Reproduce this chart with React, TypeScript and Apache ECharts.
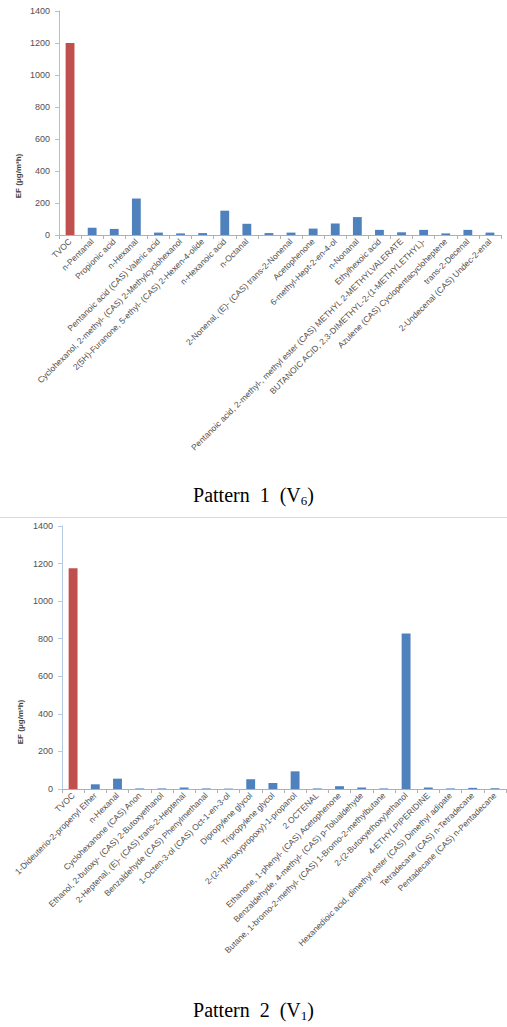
import React, { useEffect, useRef } from "react";
import * as echarts from "echarts";

const categories1 = [
  "TVOC",
  "n-Pentanal",
  "Propionic acid",
  "n-Hexanal",
  "Pentanoic acid (CAS) Valeric acid",
  "Cyclohexanol, 2-methyl- (CAS) 2-Methylcyclohexanol",
  "2(5H)-Furanone, 5-ethyl- (CAS) 2-Hexen-4-olide",
  "n-Hexanoic acid",
  "n-Octanal",
  "",
  "2-Nonenal, (E)- (CAS) trans-2-Nonenal",
  "Acetophenone",
  "6-methyl-Hept-2-en-4-ol",
  "n-Nonanal",
  "Ethylhexoic acid",
  "Pentanoic acid, 2-methyl-, methyl ester (CAS) METHYL 2-METHYLVALERATE",
  "BUTANOIC ACID, 2,3-DIMETHYL-2-(1-METHYLETHYL)-",
  "Azulene (CAS) Cyclopentacycloheptene",
  "trans-2-Decenal",
  "2-Undecenal (CAS) Undec-2-enal",
];
const values1 = [1200, 45, 38, 228, 15, 10, 12, 152, 70, 12, 15, 40, 72, 112, 32, 17, 32, 10, 32, 15];

const categories2 = [
  "TVOC",
  "1-Dideuterio-2-propenyl Ether",
  "n-Hexanal",
  "Cyclohexanone (CAS) Anon",
  "Ethanol, 2-butoxy- (CAS) 2-Butoxyethanol",
  "2-Heptenal, (E)- (CAS) trans-2-Heptenal",
  "Benzaldehyde (CAS) Phenylmethanal",
  "1-Octen-3-ol (CAS) Oct-1-en-3-ol",
  "Dipropylene glycol",
  "Tripropylene glycol",
  "2-(2-Hydroxypropoxy)-1-propanol",
  "2 OCTENAL",
  "Ethanone, 1-phenyl- (CAS) Acetophenone",
  "Benzaldehyde, 4-methyl- (CAS) p-Tolualdehyde",
  "Butane, 1-bromo-2-methyl- (CAS) 1-Bromo-2-methylbutane",
  "2-(2-Butoxyethoxy)ethanol",
  "4-ETHYLPIPERIDINE",
  "Hexanedioic acid, dimethyl ester (CAS) Dimethyl adipate",
  "Tetradecane (CAS) n-Tetradecane",
  "Pentadecane (CAS) n-Pentadecane",
];
const values2 = [1175, 25, 55, 3, 3, 8, 3, 2, 52, 32, 94, 3, 15, 8, 3, 828, 8, 3, 6, 4];

const yTicks = [0, 200, 400, 600, 800, 1000, 1200, 1400];
const yAxisName = "EF (μg/m³h)";
const caption1 = ["Pattern  1  (V", "6", ")"];
const caption2 = ["Pattern  2  (V", "1", ")"];

const RED = "#C0504D";
const BLUE = "#4F81BD";
const SANS = "'Liberation Sans', Arial, sans-serif";
const SERIF = "'Liberation Serif', 'Times New Roman', serif";

export default function App() {
  const ref = useRef<HTMLDivElement>(null);

  useEffect(() => {
    if (!ref.current) return;
    const chart = echarts.init(ref.current, null, { renderer: "svg" });

    const xAxisBase = (cats: string[], gridIndex: number) => ({
      type: "category",
      gridIndex,
      data: cats,
      boundaryGap: true,
      axisLine: { show: true, lineStyle: { color: "#B0B0B0", width: 1 } },
      axisTick: { show: true, alignWithLabel: false, length: 4, lineStyle: { color: "#B0B0B0" } },
      axisLabel: {
        interval: 0,
        rotate: 45,
        fontSize: 8.5,
        fontFamily: SANS,
        color: "#505050",
        margin: 5,
      },
      splitLine: { show: false },
    });

    const yAxisBase = (gridIndex: number, lineColor: string) => ({
      type: "value",
      gridIndex,
      min: yTicks[0],
      max: yTicks[yTicks.length - 1],
      interval: yTicks[1] - yTicks[0],
      axisLine: { show: true, lineStyle: { color: lineColor, width: 1 } },
      axisTick: { show: true, length: 4, lineStyle: { color: lineColor } },
      axisLabel: {
        fontSize: 9,
        fontFamily: SANS,
        color: "#505050",
        margin: 9,
        formatter: (v: number) => String(v),
      },
      splitLine: { show: false },
    });

    const colorFn = (p: any) => (p.dataIndex === 0 ? RED : BLUE);

    const captionRich = {
      a: { fontSize: 20, fontFamily: SERIF, fontWeight: "normal", color: "#000", lineHeight: 24 },
      s: { fontSize: 13, fontFamily: SERIF, fontWeight: "normal", color: "#000", lineHeight: 24, verticalAlign: "bottom" },
    };

    chart.setOption({
      animation: false,
      backgroundColor: "#ffffff",
      title: [
        {
          text: `{a|${caption1[0]}}{s|${caption1[1]}}{a|${caption1[2]}}`,
          left: "center",
          top: 478,
          textStyle: { fontWeight: "normal", rich: captionRich },
        },
        {
          text: `{a|${caption2[0]}}{s|${caption2[1]}}{a|${caption2[2]}}`,
          left: "center",
          top: 993,
          textStyle: { fontWeight: "normal", rich: captionRich },
        },
      ],
      grid: [
        { left: 59, top: 11, width: 442, height: 224, containLabel: false },
        { left: 62, top: 526, width: 444, height: 263, containLabel: false },
      ],
      xAxis: [xAxisBase(categories1, 0), xAxisBase(categories2, 1)],
      yAxis: [yAxisBase(0, "#BDBDBD"), yAxisBase(1, "#B4CBE3")],
      series: [
        {
          type: "bar",
          xAxisIndex: 0,
          yAxisIndex: 0,
          data: values1,
          barWidth: "40%",
          itemStyle: { color: colorFn },
        },
        {
          type: "bar",
          xAxisIndex: 1,
          yAxisIndex: 1,
          data: values2,
          barWidth: "40%",
          itemStyle: { color: colorFn },
        },
      ],
      graphic: [
        {
          type: "text",
          x: 18,
          y: 176,
          rotation: Math.PI / 2,
          style: {
            text: yAxisName,
            fontSize: 8,
            fontWeight: "bold",
            fontFamily: SANS,
            fill: "#404040",
            align: "center",
            verticalAlign: "middle",
          },
        },
        {
          type: "text",
          x: 20,
          y: 722,
          rotation: Math.PI / 2,
          style: {
            text: yAxisName,
            fontSize: 8,
            fontWeight: "bold",
            fontFamily: SANS,
            fill: "#404040",
            align: "center",
            verticalAlign: "middle",
          },
        },
        {
          type: "line",
          shape: { x1: 0, y1: 517.5, x2: 507, y2: 517.5 },
          style: { stroke: "#D9D9D9", lineWidth: 1 },
        },
      ],
    });

    return () => chart.dispose();
  }, []);

  return (
    <div
      ref={ref}
      style={{ position: "absolute", left: 0, top: 0, width: 507, height: 1027 }}
    />
  );
}
